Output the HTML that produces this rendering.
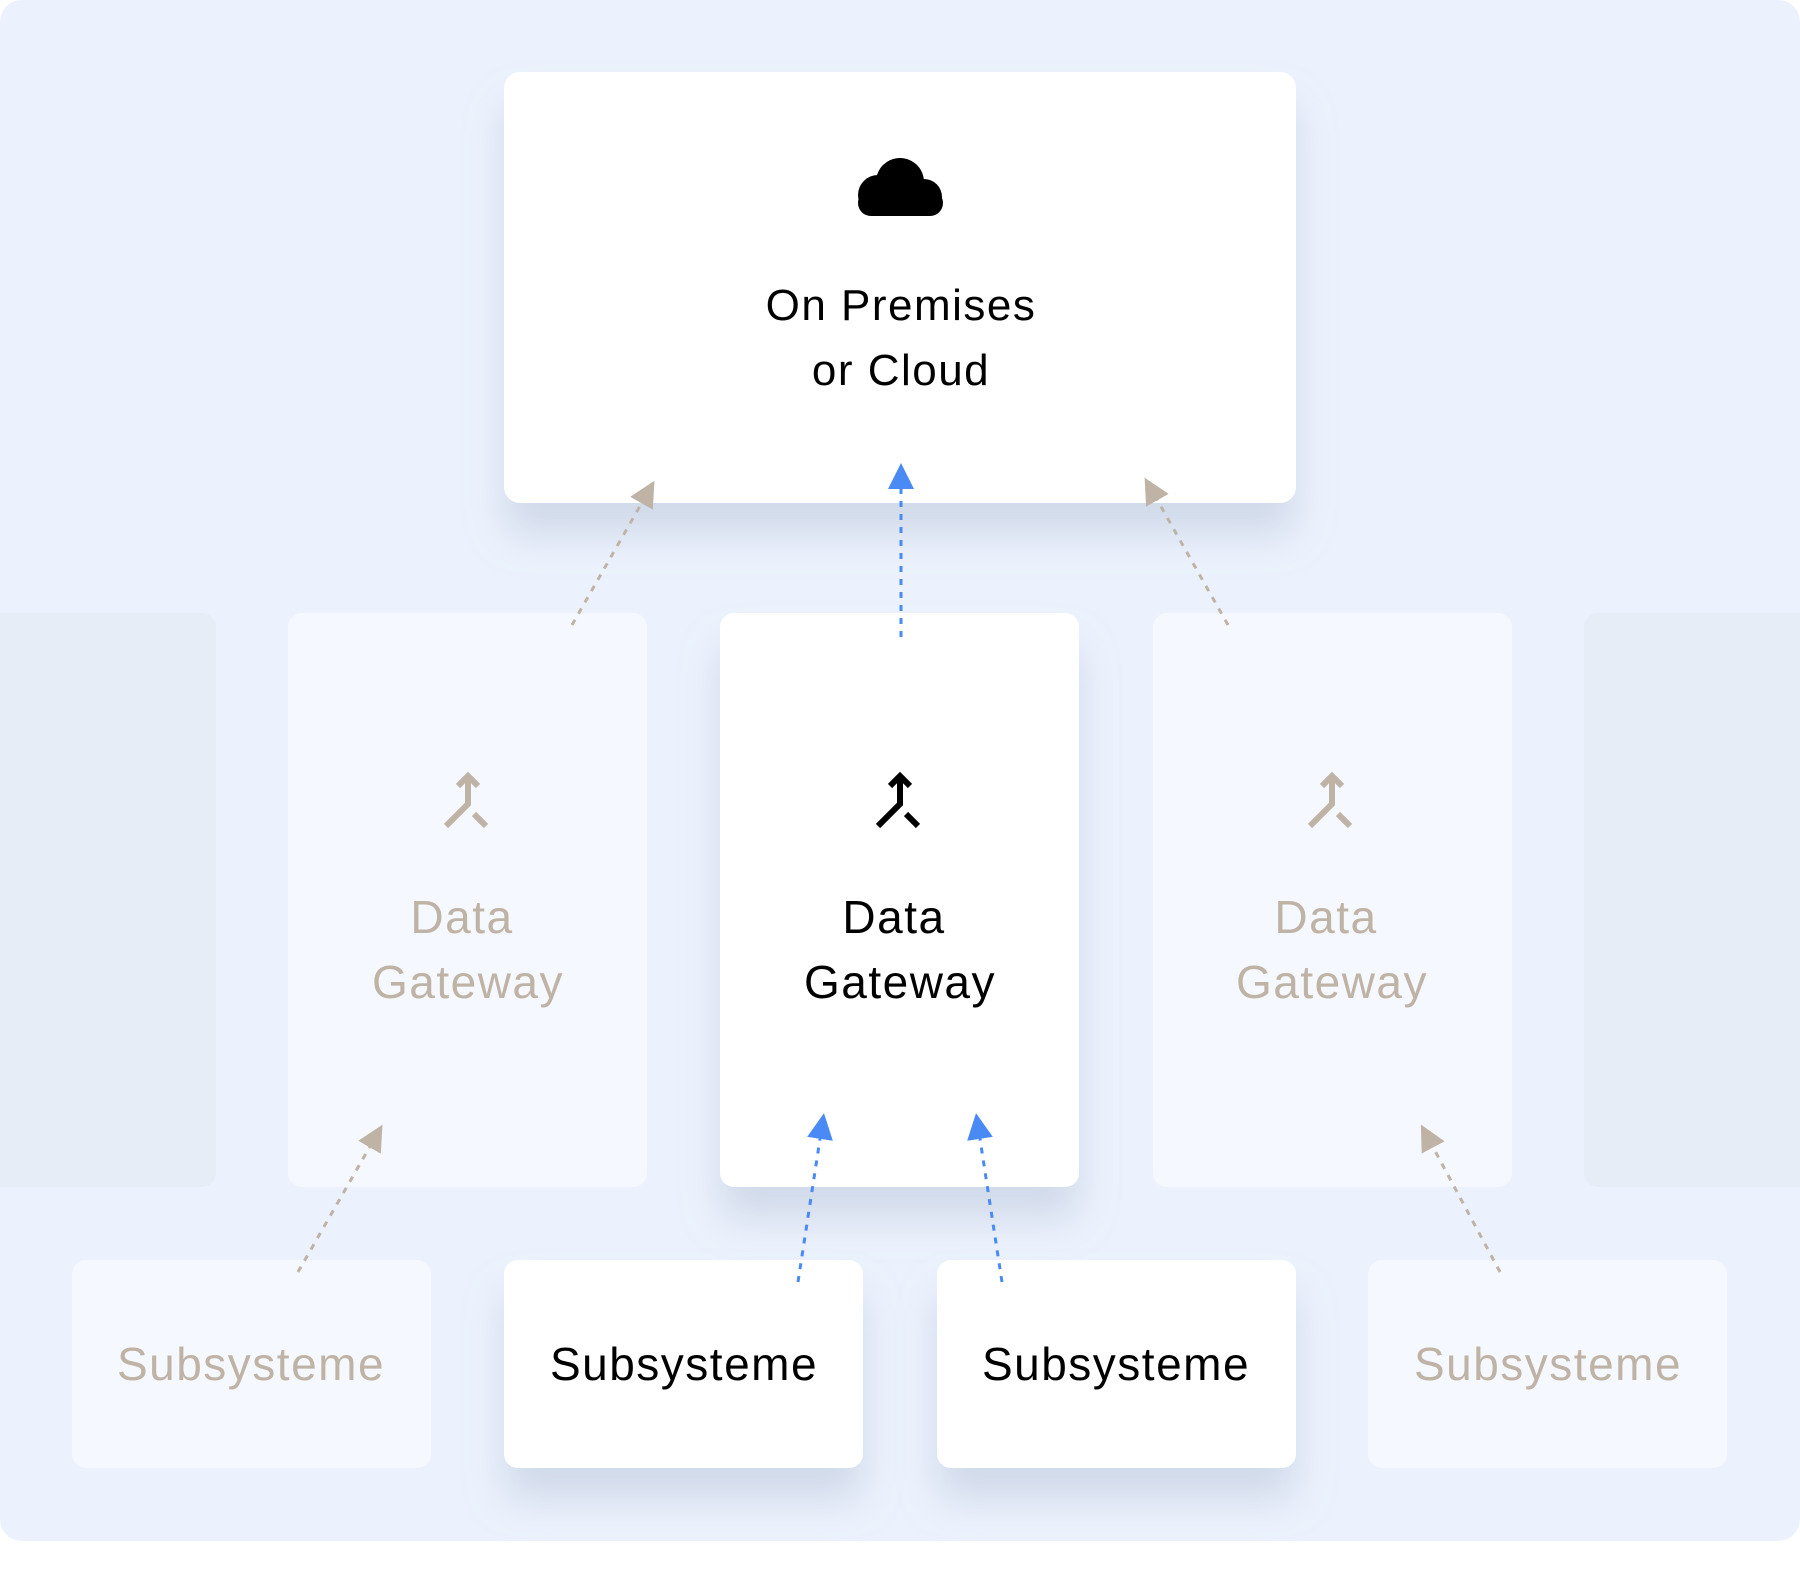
<!DOCTYPE html>
<html><head><style>
html,body{margin:0;padding:0;background:#fff;}
body{width:1800px;height:1577px;overflow:hidden;}
text{font-family:"Liberation Sans",sans-serif;}
</style></head><body>
<svg width="1800" height="1577" viewBox="0 0 1800 1577" xmlns="http://www.w3.org/2000/svg">
<defs>
<filter id="sh" x="-30%" y="-30%" width="160%" height="180%">
<feDropShadow dx="0" dy="32" stdDeviation="20" flood-color="#8a9bb8" flood-opacity="0.28"/>
</filter>
<marker id="ab" viewBox="0 0 10 10" refX="5" refY="5" markerWidth="26" markerHeight="26" markerUnits="userSpaceOnUse" orient="auto"><path d="M0,0 L10,5 L0,10 z" fill="#4a8af4"/></marker>
<marker id="ag" viewBox="0 0 10 10" refX="5" refY="5" markerWidth="26" markerHeight="26" markerUnits="userSpaceOnUse" orient="auto"><path d="M0,0 L10,5 L0,10 z" fill="#bfb3a6"/></marker>
</defs>
<rect x="0" y="0" width="1800" height="1541" rx="22" fill="#ecf2fd"/>
<rect x="-20" y="613" width="236" height="574" rx="14" fill="#e7edf6"/>
<rect x="1584" y="613" width="236" height="574" rx="14" fill="#e7edf6"/>
<rect x="288" y="613" width="359" height="574" rx="14" fill="#f5f8fe"/>
<rect x="1153" y="613" width="359" height="574" rx="14" fill="#f5f8fe"/>
<rect x="720" y="613" width="359" height="574" rx="14" fill="#fff" filter="url(#sh)"/>
<rect x="504" y="72" width="792" height="431" rx="16" fill="#fff" filter="url(#sh)"/>
<rect x="72" y="1260" width="359" height="208" rx="14" fill="#f5f8fe"/>
<rect x="1368" y="1260" width="359" height="208" rx="14" fill="#f5f8fe"/>
<rect x="504" y="1260" width="359" height="208" rx="14" fill="#fff" filter="url(#sh)"/>
<rect x="937" y="1260" width="359" height="208" rx="14" fill="#fff" filter="url(#sh)"/>
<g fill="#000">
<circle cx="900" cy="182" r="24"/>
<circle cx="878" cy="195" r="20"/>
<circle cx="924" cy="197" r="18"/>
<rect x="858" y="190" width="85" height="26" rx="13"/>
</g>
<g font-size="44" text-anchor="middle" letter-spacing="1.5">
<text x="901" y="320" fill="#000">On Premises</text>
<text x="901" y="385" fill="#000">or Cloud</text>
</g>
<g fill="none" stroke-width="6">
<g stroke="#bfb3a6" transform="translate(468,800)"><path d="M0,-24 V4 L-22,26 M6,14 L18,26 M-10,-14 L0,-24 L10,-14"/></g>
<g stroke="#000" transform="translate(900,800)"><path d="M0,-24 V4 L-22,26 M6,14 L18,26 M-10,-14 L0,-24 L10,-14"/></g>
<g stroke="#bfb3a6" transform="translate(1332,800)"><path d="M0,-24 V4 L-22,26 M6,14 L18,26 M-10,-14 L0,-24 L10,-14"/></g>
</g>
<g font-size="46" text-anchor="middle" letter-spacing="1.5">
<text x="462" y="933" fill="#bfb3a6">Data</text>
<text x="468" y="998" fill="#bfb3a6">Gateway</text>
<text x="894" y="933" fill="#000">Data</text>
<text x="900" y="998" fill="#000">Gateway</text>
<text x="1326" y="933" fill="#bfb3a6">Data</text>
<text x="1332" y="998" fill="#bfb3a6">Gateway</text>
<text x="251" y="1380" fill="#bfb3a6">Subsysteme</text>
<text x="684" y="1380" fill="#000">Subsysteme</text>
<text x="1116" y="1380" fill="#000">Subsysteme</text>
<text x="1548" y="1380" fill="#bfb3a6">Subsysteme</text>
</g>
<g fill="none" stroke-width="3" stroke-dasharray="6,7">
<path d="M572,625 L648,492" stroke="#bfb3a6" marker-end="url(#ag)"/>
<path d="M1228,625 L1151,489" stroke="#bfb3a6" marker-end="url(#ag)"/>
<path d="M901,637 L901,476" stroke="#4a8af4" marker-end="url(#ab)"/>
<path d="M298,1272 L376,1136" stroke="#bfb3a6" marker-end="url(#ag)"/>
<path d="M1500,1272 L1427,1136" stroke="#bfb3a6" marker-end="url(#ag)"/>
<path d="M798,1282 L822,1126" stroke="#4a8af4" marker-end="url(#ab)"/>
<path d="M1002,1282 L978,1126" stroke="#4a8af4" marker-end="url(#ab)"/>
</g>
</svg>
</body></html>
